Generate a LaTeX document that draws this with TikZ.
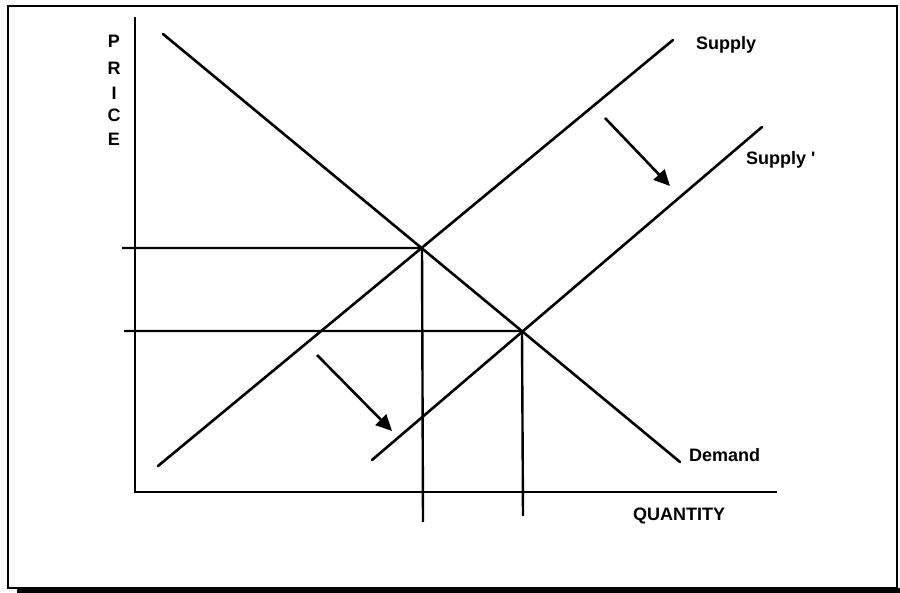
\documentclass[tikz,border=0pt]{standalone}
\usepackage{fontspec}
\setmainfont{Liberation Sans}
\usetikzlibrary{arrows.meta}
\begin{document}
\begin{tikzpicture}[x=1pt,y=-1pt,
  curve/.style={line width=2.6pt,line cap=round},
  guide/.style={line width=2.4pt},
  movearrow/.style={line width=2.6pt,-{Triangle[length=16pt,width=15pt]}},
  lbl/.style={font=\fontsize{18}{18}\selectfont\bfseries,inner sep=0pt}]
\useasboundingbox (0,0) rectangle (900,593);
\fill[white] (0,0) rectangle (900,593);
% frame with a drop shadow along the bottom
\fill[black] (17,588) rectangle (900,593);
\draw[line width=1.8pt] (8,6) rectangle (897,588);

% axes
\coordinate (ytop) at (135,17);
\coordinate (origin) at (135,492);
\coordinate (xend) at (777,492);
\draw[guide] (ytop) -- (origin) -- (xend);

% curves
\coordinate (d0) at (163,34);
\coordinate (d1) at (680,462);
\coordinate (s0) at (158,466);
\coordinate (s1) at (673,40);
\coordinate (t0) at (372,460);
\coordinate (t1) at (762,127);
\draw[curve] (d0) -- (d1);
\draw[curve] (s0) -- (s1);
\draw[curve] (t0) -- (t1);

% equilibrium points and their guide lines
\coordinate (e1) at (422,248);
\coordinate (e2) at (522,331);
\coordinate (p1) at (122,248);
\coordinate (p2) at (124,331);
\coordinate (q1) at (423,522);
\coordinate (q2) at (523,516);
\draw[guide] (p1) -- (e1) -- (q1);
\draw[guide] (p2) -- (e2) -- (q2);

% shift arrows
\coordinate (a0) at (605,118);
\coordinate (a1) at (670,186);
\coordinate (b0) at (317,355);
\coordinate (b1) at (392,431);
\draw[movearrow] (a0) -- (a1);
\draw[movearrow] (b0) -- (b1);

% labels
\node[lbl,anchor=base west] (ls) at (696,50) {Supply};
\node[lbl,anchor=base west] (lt) at (746,165) {Supply \textquotesingle};
\node[lbl,anchor=base west] (ld) at (689,461) {Demand};
\node[lbl,anchor=base west] (lq) at (633,520) {QUANTITY};
\node[lbl,anchor=base] (pp) at (114,48) {P};
\node[lbl,anchor=base] (pr) at (114,75) {R};
\node[lbl,anchor=base] (pi) at (114,100) {I};
\node[lbl,anchor=base] (pc) at (114,122) {C};
\node[lbl,anchor=base] (pe) at (114,146) {E};
\end{tikzpicture}
\end{document}
